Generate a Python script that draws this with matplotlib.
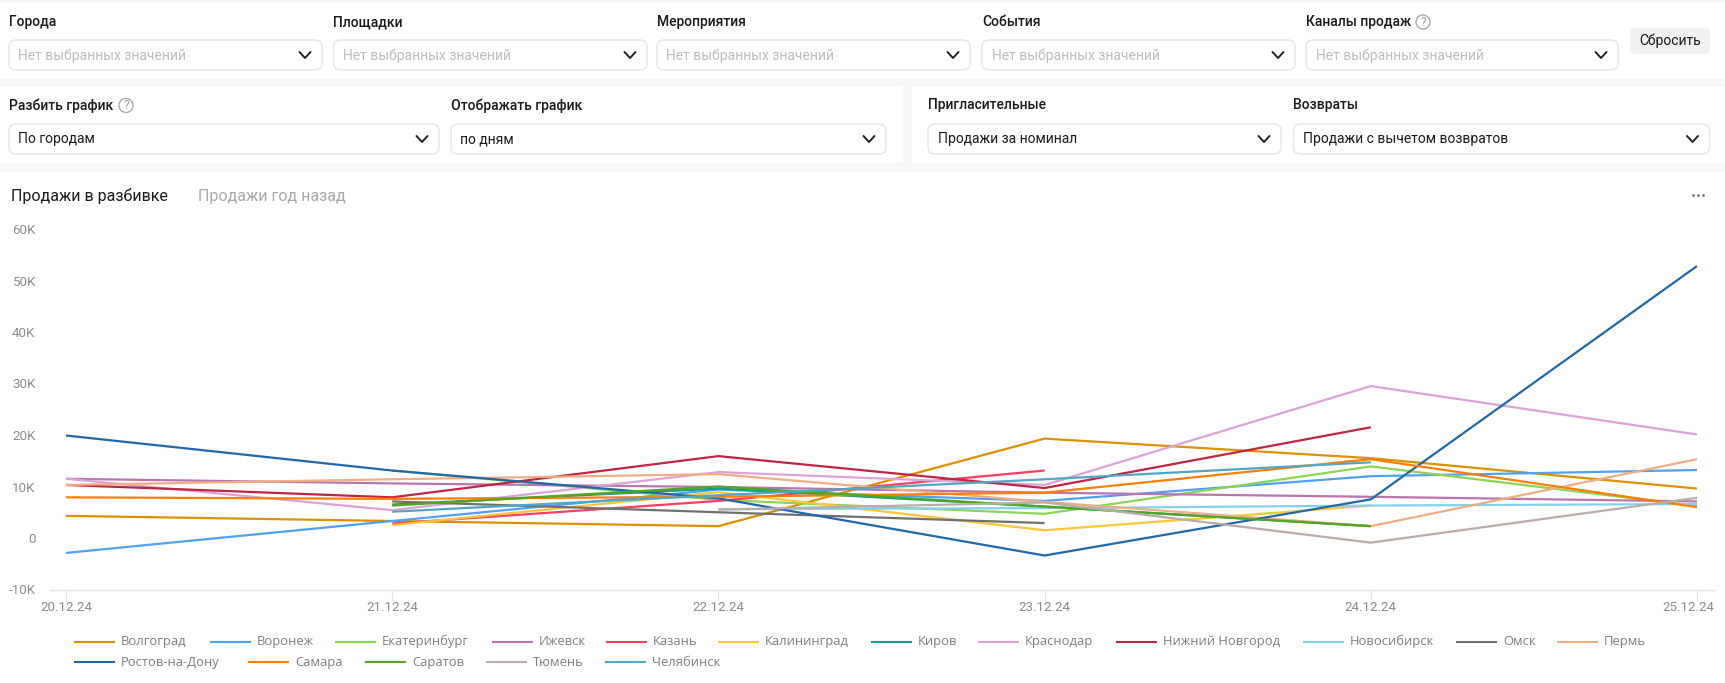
import numpy as np
import matplotlib
matplotlib.use("Agg")
import matplotlib.pyplot as plt
from matplotlib.patches import FancyBboxPatch, Rectangle, Circle
from matplotlib.transforms import ScaledTranslation

plt.rcParams["font.family"] = ["Open Sans", "DejaVu Sans"]

nan = np.nan
dates = ["20.12.24", "21.12.24", "22.12.24", "23.12.24", "24.12.24", "25.12.24"]
yticks = [-10, 0, 10, 20, 30, 40, 50, 60]
ytick_labels = ["-10K", "0", "10K", "20K", "30K", "40K", "50K", "60K"]

# sales in thousands, one list per city
volgograd = [4.3, 3.3, 2.3, 19.3, 15.5, 9.6]
voronezh = [-2.9, 3.3, 9.4, 7.2, 12.0, 13.2]
ekaterinburg = [nan, 13.1, 7.4, 4.7, 13.9, 6.2]
izhevsk = [11.5, 10.6, 9.9, 8.8, 8.0, 7.1]
kazan = [nan, 2.8, 7.2, 13.1, nan, nan]
kaliningrad = [nan, 2.5, 8.9, 1.5, 6.3, nan]
kirov = [nan, 6.5, 9.6, 6.1, 2.3, nan]
krasnodar = [11.5, 5.4, 12.8, 10.3, 29.5, 20.1]
nizhny = [10.3, 7.9, 15.9, 9.7, 21.5, nan]
novosibirsk = [nan, nan, 5.6, 5.8, 6.3, 6.6]
omsk = [nan, 7.1, 5.0, 2.9, nan, nan]
perm = [10.3, 11.4, 12.4, 7.0, 2.3, 15.3]
rostov = [19.9, 13.1, 7.7, -3.4, 7.5, 52.8]
samara = [7.9, 7.6, 8.0, 8.8, 15.3, 6.0]
saratov = [nan, 6.3, 10.0, 6.1, 2.3, nan]
tyumen = [nan, nan, 5.5, 6.9, -0.9, 7.8]
chelyabinsk = [nan, 5.1, 8.3, 11.4, 14.7, nan]

series = [
    ("Волгоград", volgograd, "#DB9100"),
    ("Воронеж", voronezh, "#4DA2F1"),
    ("Екатеринбург", ekaterinburg, "#8AD554"),
    ("Ижевск", izhevsk, "#BA74B0"),
    ("Казань", kazan, "#FF3D64"),
    ("Калининград", kaliningrad, "#FFC636"),
    ("Киров", kirov, "#0FA08D"),
    ("Краснодар", krasnodar, "#DCA3D7"),
    ("Нижний Новгород", nizhny, "#BE2443"),
    ("Новосибирск", novosibirsk, "#84D1EE"),
    ("Омск", omsk, "#707070"),
    ("Пермь", perm, "#F0AE80"),
    ("Ростов-на-Дону", rostov, "#1F68A9"),
    ("Самара", samara, "#FF7E00"),
    ("Саратов", saratov, "#54A520"),
    ("Тюмень", tyumen, "#B8ADA8"),
    ("Челябинск", chelyabinsk, "#52A6C5"),
]

# swatch left edge and row of each legend entry, in pixels
legend_x = [74, 210, 335, 492, 606, 718, 871, 978, 1116, 1303, 1456, 1557,
            74, 248, 365, 486, 605]
legend_y = [641.7] * 12 + [662.3] * 5

W, H = 1725, 683
fig = plt.figure(figsize=(W / 100, H / 100), dpi=100, facecolor="#F8F8F8")

# page furniture drawn in pixel coordinates
ui = fig.add_axes([0, 0, 1, 1], zorder=0)
ui.set_xlim(0, W)
ui.set_ylim(H, 0)
ui.axis("off")


def card(x0, y0, x1, y1):
    ui.add_patch(Rectangle((x0, y0), x1 - x0, y1 - y0, fc="white", ec="none"))


def chevron(x, y):
    ui.plot([x - 5.5, x, x + 5.5], [y - 3, y + 3, y - 3], color="#222222", lw=1.4,
            solid_capstyle="round", solid_joinstyle="round")


def select_box(x0, x1, y0, text, color):
    ui.add_patch(FancyBboxPatch((x0 + 6, y0 + 6), x1 - x0 - 12, 18,
                                boxstyle="round,pad=6,rounding_size=7",
                                fc="white", ec="#E6E6E6", lw=1))
    ui.text(x0 + 9.5, y0 + 15.5, text, color=color, fontsize=FS, va="center",
            family=UI_FONT)
    chevron(x1 - 17, y0 + 15)


def label(x, y, text):
    ui.text(x, y, text, color="#1A1A1A", fontsize=FS, va="center", family=UI_FONT,
            weight="medium")


def help_icon(x, y):
    ui.add_patch(Circle((x, y), 7, fc="white", ec="#AAAAAA", lw=1))
    ui.text(x, y, "?", color="#999999", fontsize=8.5, ha="center", va="center",
            family=UI_FONT)


FS = 10
UI_FONT = "Roboto"
HINT = "#BDBDBD"
HINT_TEXT = "Нет выбранных значений"

card(0, 3, W, 79)
card(0, 87, 903, 163)
card(912, 87, W, 163)
card(0, 172, W, H)

label(9, 22, "Города")
label(333.5, 22, "Площадки")
label(657, 22, "Мероприятия")
label(982, 22, "События")
label(1306, 22, "Каналы продаж")
help_icon(1423, 22)
for x0, x1 in [(9, 322), (333.5, 647), (657, 970), (982, 1295), (1306, 1618)]:
    select_box(x0, x1, 40, HINT_TEXT, HINT)

ui.add_patch(FancyBboxPatch((1636, 34), 68, 14, boxstyle="round,pad=6,rounding_size=5",
                            fc="#F1F1F1", ec="none"))
ui.text(1670, 41, "Сбросить", color="#1A1A1A", fontsize=FS, ha="center", va="center",
        family=UI_FONT)

label(9, 105.5, "Разбить график")
help_icon(126, 105.5)
label(451, 105.5, "Отображать график")
label(928, 105.5, "Пригласительные")
label(1293.5, 105.5, "Возвраты")
select_box(9, 439, 124, "По городам", "#1A1A1A")
select_box(451, 886, 124, "по дням", "#1A1A1A")
select_box(928, 1281, 124, "Продажи за номинал", "#1A1A1A")
select_box(1293.5, 1709.5, 124, "Продажи с вычетом возвратов", "#1A1A1A")

ui.text(11, 196, "Продажи в разбивке", color="#1A1A1A", fontsize=11.5, va="center",
        family=UI_FONT)
ui.text(198, 196, "Продажи год назад", color="#A8A8A8", fontsize=11.5, va="center",
        family=UI_FONT)
ui.scatter([1693, 1698, 1703], [195, 195, 195], s=4, color="#777777", linewidths=0)

# chart: 20.12 sits at x=66, 25.12 at x=1697, -10K at y=589.5, 60K at y=229
ax_left, ax_right, ax_top, ax_bottom = 50, 1714, 229, 589.5
ax = fig.add_axes([ax_left / W, 1 - ax_bottom / H, (ax_right - ax_left) / W,
                   (ax_bottom - ax_top) / H], zorder=1)
ax.patch.set_alpha(0)
x_step = (1697 - 66) / 5
ax.set_xlim((ax_left - 66) / x_step, (ax_right - 66) / x_step)
ax.set_ylim(-10, 60)

x = np.arange(len(dates))
for name, values, color in series:
    ax.plot(x, values, color=color, lw=1.6, label=name, solid_capstyle="butt",
            solid_joinstyle="miter")

for side in ["top", "left", "right"]:
    ax.spines[side].set_visible(False)
ax.spines["bottom"].set_color("#E4E4E4")
ax.spines["bottom"].set_linewidth(1)

ax.set_yticks(yticks, ytick_labels)
ax.set_xticks(x, dates)
ax.tick_params(axis="y", length=0, pad=10.5, labelsize=9.6, labelcolor="#8C8C8C")
ax.tick_params(axis="x", length=8, width=0.8, color="#E4E4E4", pad=0.5, labelsize=9.6,
               labelcolor="#8C8C8C")
for t in ax.get_xticklabels() + ax.get_yticklabels():
    t.set_family("Roboto")

# the last date is pushed left to stay inside the chart
last = ax.get_xticklabels()[-1]
last.set_transform(last.get_transform() + ScaledTranslation(-9 / 100, 0, fig.dpi_scale_trans))

for (name, values, color), lx, ly in zip(series, legend_x, legend_y):
    ui.plot([lx, lx + 41], [ly, ly], color=color, lw=1.5, solid_capstyle="butt")
    ui.text(lx + 47, ly, name, color="#7F7F7F", fontsize=9.4, va="center")

fig.savefig("out.png", dpi=100)
